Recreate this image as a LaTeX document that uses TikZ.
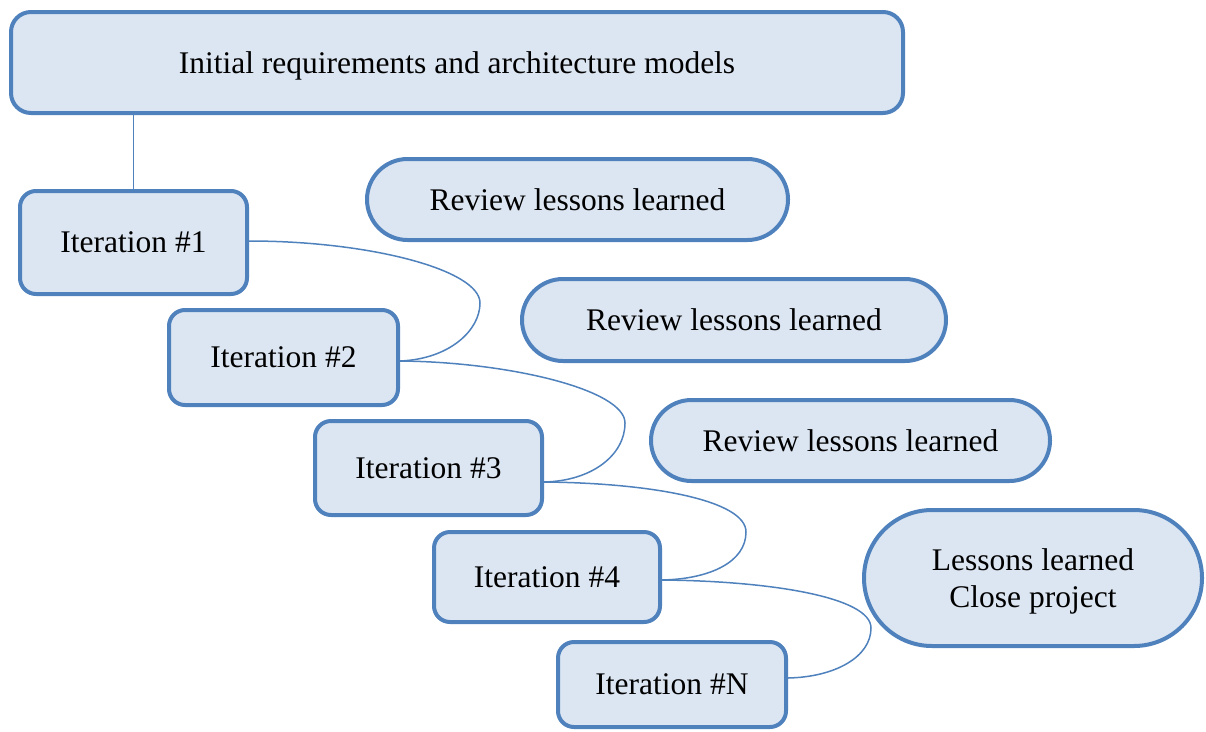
\documentclass[tikz,border=0pt]{standalone}
\usepackage{fontspec}
\setmainfont{Liberation Serif}
\definecolor{boxfill}{HTML}{DCE6F2}
\definecolor{boxline}{HTML}{4F81BD}
\begin{document}
\begin{tikzpicture}[x=1pt,y=-1pt,
  every node/.style={font=\fontsize{31.5}{36.5}\selectfont, inner sep=0pt, text depth=0pt},
  itbox/.style={draw=boxline, fill=boxfill, line width=4pt, rounded corners=16pt, rectangle},
  topbox/.style={draw=boxline, fill=boxfill, line width=4pt, rounded corners=20pt, rectangle},
  pill/.style={draw=boxline, fill=boxfill, line width=4pt, rectangle},
  link/.style={draw=boxline, line width=1.5pt}]
\useasboundingbox (0,0) rectangle (1206,731);
% top box
\node[topbox, minimum width=892pt, minimum height=101pt] (top) at (457,62.5) {Initial requirements and architecture models};
% iterations
\node[itbox, minimum width=227pt, minimum height=103pt] (it1) at (133.5,242.5) {Iteration \#1};
\node[itbox, minimum width=229pt, minimum height=95pt] (it2) at (283.5,357.5) {Iteration \#2};
\node[itbox, minimum width=227pt, minimum height=94pt] (it3) at (428.5,468) {Iteration \#3};
\node[itbox, minimum width=226pt, minimum height=90pt] (it4) at (547,577) {Iteration \#4};
\node[itbox, minimum width=228pt, minimum height=85pt] (itN) at (672,684.5) {Iteration \#N};
% review pills
\node[pill, rounded corners=40.5pt, minimum width=421pt, minimum height=81pt] (r1) at (577.5,199.5) {Review lessons learned};
\node[pill, rounded corners=41pt, minimum width=424pt, minimum height=82pt] (r2) at (734,320) {Review lessons learned};
\node[pill, rounded corners=40.5pt, minimum width=399pt, minimum height=81pt] (r3) at (850.5,440.5) {Review lessons learned};
\node[pill, rounded corners=68pt, minimum width=338pt, minimum height=136pt, align=center] (ll) at (1033,578) {Lessons learned\\Close project};
% connectors
\draw[link] (it1.north) -- (it1.north |- top.south);
\coordinate (b1) at (480,303);
\coordinate (b2) at (625,423);
\coordinate (b3) at (746,532);
\coordinate (b4) at (871,628);
\draw[link] ([yshift=1.5pt]it1.east) .. controls (370,241) and (480,270) .. (b1)
  .. controls (480,330) and (450,359) .. ([yshift=-3.5pt]it2.east);
\draw[link] ([yshift=-3.5pt]it2.east) .. controls (510,362) and (625,390) .. (b2)
  .. controls (625,455) and (592,481) .. ([yshift=-14pt]it3.east);
\draw[link] ([yshift=-14pt]it3.east) .. controls (650,483) and (746,500) .. (b3)
  .. controls (746,562) and (710,579) .. ([yshift=-3pt]it4.east);
\draw[link] ([yshift=-3pt]it4.east) .. controls (770,581) and (871,597) .. (b4)
  .. controls (871,657) and (835,677) .. ([yshift=6.5pt]itN.east);
\end{tikzpicture}
\end{document}
